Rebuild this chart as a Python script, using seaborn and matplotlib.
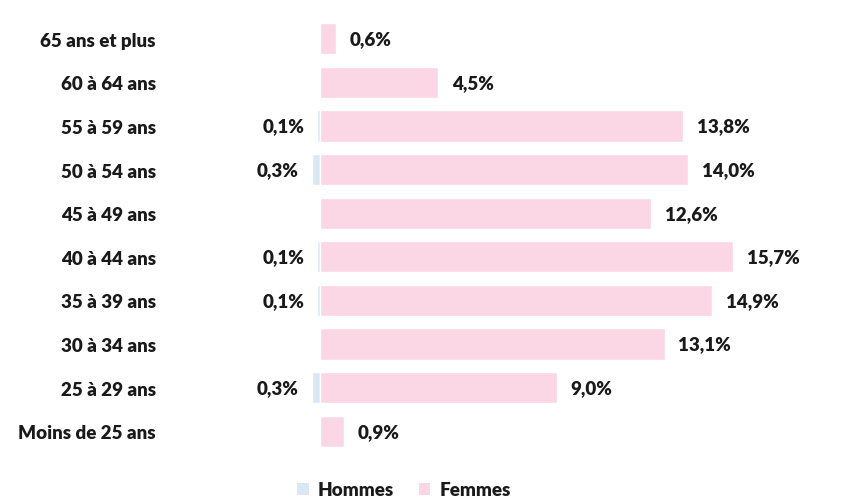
import matplotlib
matplotlib.use("Agg")
import matplotlib.pyplot as plt
import seaborn as sns
import pandas as pd
from matplotlib.patches import Patch

ages = ["65 ans et plus", "60 à 64 ans", "55 à 59 ans", "50 à 54 ans", "45 à 49 ans",
        "40 à 44 ans", "35 à 39 ans", "30 à 34 ans", "25 à 29 ans", "Moins de 25 ans"]
hommes = [0.0, 0.0, 0.1, 0.3, 0.0, 0.1, 0.1, 0.0, 0.3, 0.0]
femmes = [0.6, 4.5, 13.8, 14.0, 12.6, 15.7, 14.9, 13.1, 9.0, 0.9]
series = ["Hommes", "Femmes"]

c_h = "#d9e8f5"
c_f = "#fbd7e5"
txt = "#1a1a1a"
fs = 13.5
fw = "heavy"

sns.set_theme(style="white")
plt.rcParams["font.family"] = ["Lato", "DejaVu Sans"]

fig = plt.figure(figsize=(8.57, 5.02), dpi=100)
ax = fig.add_axes([190/857, (502-454)/502, 650/857, 436/502])

df_h = pd.DataFrame({"age": ages, "val": [-v for v in hommes]})
df_f = pd.DataFrame({"age": ages, "val": femmes})
sns.barplot(data=df_h, y="age", x="val", orient="h", color=c_h, width=0.72,
            saturation=1, ax=ax)
sns.barplot(data=df_f, y="age", x="val", orient="h", color=c_f, width=0.72,
            saturation=1, ax=ax)

ax.set_xlim(-130/26.3, 520/26.3)
ax.set_ylim(9.5, -0.5)
for s in ax.spines.values():
    s.set_visible(False)
ax.set_xticks([])
ax.set_xlabel("")
ax.set_ylabel("")
ax.tick_params(axis="y", length=0, pad=24.5)
for lab in ax.get_yticklabels():
    lab.set_fontweight(fw)
    lab.set_fontsize(fs)
    lab.set_color(txt)

def fmt(v):
    return f"{v:.1f}".replace(".", ",") + "%"

for i, v in enumerate(femmes):
    ax.text(v + 0.53, i, fmt(v), ha="left", va="center", fontsize=fs,
            fontweight=fw, color=txt)
for i, v in enumerate(hommes):
    if v > 0:
        ax.text(-v - 0.5, i, fmt(v), ha="right", va="center", fontsize=fs,
                fontweight=fw, color=txt)

handles = [Patch(facecolor=c_h, edgecolor="none"), Patch(facecolor=c_f, edgecolor="none")]
fig.legend(handles, series, loc="center", bbox_to_anchor=(404/857, 1-491/502),
           ncol=2, frameon=False, handlelength=0.6, handleheight=0.6,
           handletextpad=0.5, columnspacing=1.3, borderpad=0, borderaxespad=0,
           prop={"weight": fw, "size": fs}, labelcolor=txt)

fig.savefig("out.png", dpi=100)
